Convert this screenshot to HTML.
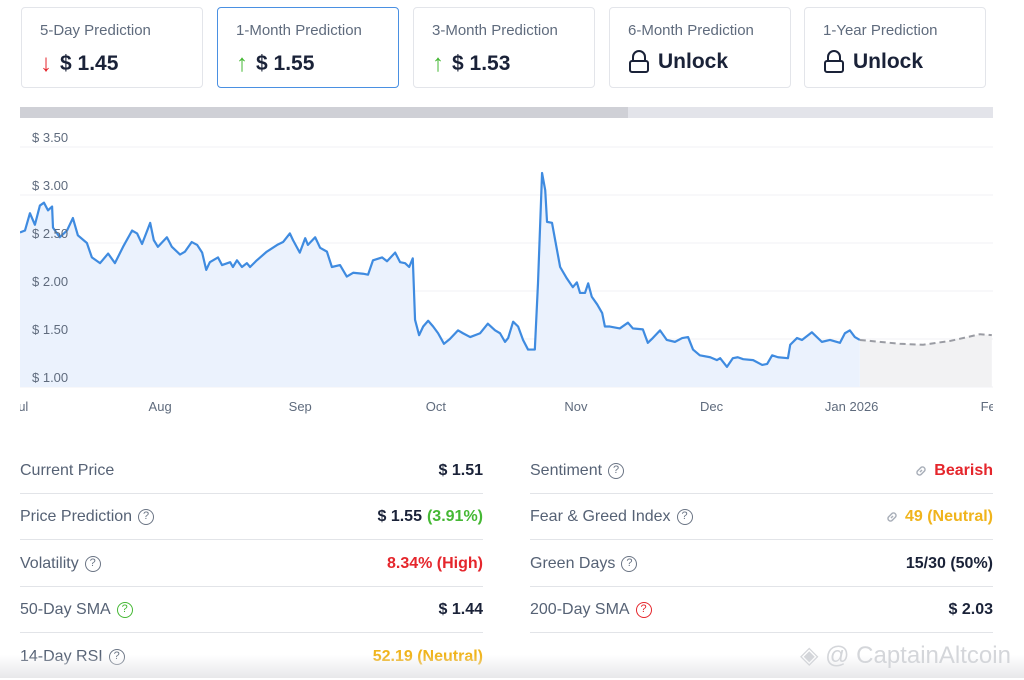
<!DOCTYPE html>
<html><head><meta charset="utf-8">
<style>
*{box-sizing:border-box;margin:0;padding:0}
body{width:1024px;height:678px;background:#fff;font-family:"Liberation Sans",sans-serif;position:relative;overflow:hidden;color:#1a2238}
.card{position:absolute;top:7px;width:182px;height:81px;border:1px solid #e3e5ea;border-radius:4px;background:#fff}
.card.sel{border-color:#4a90e2}
.card .t{position:absolute;left:18px;top:14px;font-size:15px;color:#5f6b7d}
.card .v{position:absolute;left:18px;top:42px;font-size:21px;font-weight:bold;color:#1a2238;display:flex;align-items:center;gap:8px}
.arr{font-size:24px;font-weight:bold}
.row{position:absolute;height:46px;border-bottom:1px solid #e2e4e8;display:flex;justify-content:space-between;align-items:center;font-size:16px}
.row .l{color:#566275;display:flex;align-items:center;gap:6px}
.row .r{font-weight:bold;color:#1a2238;display:flex;align-items:center;gap:5px}
.q{display:inline-block;width:16px;height:16px;border:1.5px solid #6b7585;border-radius:50%;font-size:11px;text-align:center;line-height:13px;color:#6b7585;font-weight:normal}
</style></head><body>
<div class="card" style="left:21px"><div class="t">5-Day Prediction</div><div class="v"><span class="arr" style="color:#e5262c">↓</span>$ 1.45</div></div>
<div class="card sel" style="left:217px"><div class="t">1-Month Prediction</div><div class="v"><span class="arr" style="color:#45b834">↑</span>$ 1.55</div></div>
<div class="card" style="left:413px"><div class="t">3-Month Prediction</div><div class="v"><span class="arr" style="color:#45b834">↑</span>$ 1.53</div></div>
<div class="card" style="left:609px"><div class="t">6-Month Prediction</div><div class="v"><svg width="22" height="24" viewBox="0 0 22 24"><path d="M5 11V7a6 6 0 0 1 12 0v4" fill="none" stroke="#1a2238" stroke-width="2"/><rect x="2" y="11" width="18" height="11" rx="2" fill="none" stroke="#1a2238" stroke-width="2"/></svg>Unlock</div></div>
<div class="card" style="left:804px"><div class="t">1-Year Prediction</div><div class="v"><svg width="22" height="24" viewBox="0 0 22 24"><path d="M5 11V7a6 6 0 0 1 12 0v4" fill="none" stroke="#1a2238" stroke-width="2"/><rect x="2" y="11" width="18" height="11" rx="2" fill="none" stroke="#1a2238" stroke-width="2"/></svg>Unlock</div></div>

<div style="position:absolute;left:20px;top:107px;width:973px;height:11px;background:#e3e4ea"><div style="width:608px;height:11px;background:#cfd0d6"></div></div>

<svg id="chart" width="1024" height="430" style="position:absolute;left:0;top:0" font-family="Liberation Sans, sans-serif"></svg>

<div class="row" style="left:20px;top:448px;width:463px"><span class="l">Current Price</span><span class="r">$ 1.51</span></div>
<div class="row" style="left:20px;top:494px;width:463px"><span class="l">Price Prediction <span class="q">?</span></span><span class="r">$ 1.55 <span style="color:#45b834">(3.91%)</span></span></div>
<div class="row" style="left:20px;top:541px;width:463px"><span class="l">Volatility <span class="q">?</span></span><span class="r" style="color:#e5262c">8.34% (High)</span></div>
<div class="row" style="left:20px;top:587px;width:463px"><span class="l">50-Day SMA <span class="q" style="border-color:#45b834;color:#45b834">?</span></span><span class="r">$ 1.44</span></div>
<div class="row" style="left:20px;top:634px;width:463px;border:none"><span class="l">14-Day RSI <span class="q">?</span></span><span class="r" style="color:#f0b41c">52.19 (Neutral)</span></div>

<div class="row" style="left:530px;top:448px;width:463px"><span class="l">Sentiment <span class="q">?</span></span><span class="r" style="color:#e5262c"><svg width="16" height="16" viewBox="0 0 16 16"><path d="M7 9l2-2M6 6.5L8 4.5a2.5 2.5 0 0 1 3.5 3.5L9.5 10M10 9.5L8 11.5A2.5 2.5 0 0 1 4.5 8L6.5 6" fill="none" stroke="#aab0ba" stroke-width="1.5"/></svg>Bearish</span></div>
<div class="row" style="left:530px;top:494px;width:463px"><span class="l">Fear &amp; Greed Index <span class="q">?</span></span><span class="r" style="color:#f0b41c"><svg width="16" height="16" viewBox="0 0 16 16"><path d="M7 9l2-2M6 6.5L8 4.5a2.5 2.5 0 0 1 3.5 3.5L9.5 10M10 9.5L8 11.5A2.5 2.5 0 0 1 4.5 8L6.5 6" fill="none" stroke="#aab0ba" stroke-width="1.5"/></svg>49 (Neutral)</span></div>
<div class="row" style="left:530px;top:541px;width:463px"><span class="l">Green Days <span class="q">?</span></span><span class="r">15/30 (50%)</span></div>
<div class="row" style="left:530px;top:587px;width:463px"><span class="l">200-Day SMA <span class="q" style="border-color:#e5262c;color:#e5262c">?</span></span><span class="r">$ 2.03</span></div>

<div style="position:absolute;left:0;top:655px;width:1024px;height:23px;background:linear-gradient(#fff0,#e8e8ea)"></div>
<div style="position:absolute;left:800px;top:641px;font-size:24px;color:#d4d6da">◈ @ CaptainAltcoin</div>

<script>
const days=[0,1.1,2.2,3.3,4.4,5.3,6.2,7.1,7.3,8.8,10.4,11.7,12.8,14.8,15.9,17.7,19.5,21,22.8,24.8,25.9,27,28.8,29.6,30.5,32.5,33.6,35.4,36.5,38,39.2,40.3,41.2,42,43.8,44.7,46.5,47.1,48,49.1,50.2,50.9,52.4,54.6,56.9,58.2,59.7,60.4,61.9,63.1,63.7,65.3,66.4,67.9,69,70.8,72.3,73.7,75.9,77,78.1,80.1,81.2,83,84.1,85.2,86.1,86.9,87.4,88.3,89.2,90.3,91.4,92.5,93.8,95.1,96.9,98,99.6,101.8,103.5,105.1,106.2,107.3,108,109.1,110.2,111.3,112.4,113.9,114.6,115.5,116.2,116.6,117.7,118.4,119.5,121,122.3,123.2,123.9,125,125.7,126.5,127.7,128.8,129.4,130.5,132.7,134.5,135.6,137.8,138.9,140,141.6,143.1,144.9,146.5,147.8,148.9,150.4,152.7,154.2,154.9,156.4,157.7,158.8,160,162.2,164.2,165.3,166.4,167.7,169.9,170.4,171.9,173,175.2,177.4,179.2,181.4,182.5,183.6,184.7,185.8];
const prices=[2.61,2.63,2.81,2.69,2.89,2.92,2.84,2.88,2.66,2.56,2.63,2.76,2.58,2.50,2.35,2.29,2.39,2.29,2.46,2.63,2.60,2.49,2.71,2.53,2.46,2.56,2.46,2.38,2.41,2.51,2.48,2.40,2.22,2.30,2.35,2.27,2.30,2.25,2.32,2.25,2.29,2.25,2.32,2.41,2.48,2.51,2.60,2.53,2.40,2.55,2.48,2.56,2.45,2.41,2.25,2.27,2.15,2.19,2.18,2.17,2.32,2.35,2.31,2.40,2.30,2.29,2.25,2.34,1.70,1.54,1.63,1.69,1.63,1.56,1.45,1.50,1.59,1.56,1.52,1.56,1.66,1.59,1.56,1.47,1.51,1.68,1.63,1.49,1.39,1.39,2.08,3.23,3.05,2.72,2.71,2.53,2.25,2.13,2.04,2.09,1.98,1.98,2.08,1.94,1.86,1.77,1.63,1.63,1.61,1.67,1.61,1.60,1.46,1.51,1.59,1.49,1.47,1.51,1.52,1.39,1.33,1.31,1.28,1.30,1.21,1.30,1.31,1.29,1.28,1.23,1.24,1.33,1.31,1.30,1.44,1.51,1.49,1.57,1.47,1.49,1.46,1.56,1.59,1.52,1.49];
const forecastDays=[185.8,194.7,199.8,205.8,212.4,215];
const forecastPrices=[1.49,1.45,1.44,1.48,1.55,1.54];
const yTicks=[1.0,1.5,2.0,2.5,3.0,3.5];
const xTickDays=[0,31,62,92,123,153,184,215];
const xTickLabels=["Jul","Aug","Sep","Oct","Nov","Dec","Jan 2026","Feb"];

const NS="http://www.w3.org/2000/svg";
const svg=document.getElementById('chart');
const X=d=>20+d*4.52;
const Y=v=>387-(v-1)*96;
function mk(tag,attrs,parent){const e=document.createElementNS(NS,tag);for(const k in attrs)e.setAttribute(k,attrs[k]);(parent||svg).appendChild(e);return e;}
const clip=mk('clipPath',{id:'cp'});mk('rect',{x:20,y:120,width:973,height:300},clip);
const g=mk('g',{'clip-path':'url(#cp)'});
yTicks.forEach(v=>{
  const l=mk('line',{x1:20,x2:993,y1:Y(v),y2:Y(v),stroke:'#f0f1f4','stroke-width':1},g);
  
  
});
let fa='M'+X(forecastDays[0])+' '+Y(1);
forecastDays.forEach((d,i)=>fa+=' L'+X(d)+' '+Y(forecastPrices[i]));
fa+=' L'+X(forecastDays[forecastDays.length-1])+' '+Y(1)+'Z';
const farea=mk('path',{d:fa,fill:'#f2f2f3'},g);


let a='M'+X(days[0])+' '+Y(1),ln='';
days.forEach((d,i)=>{a+=' L'+X(d)+' '+Y(prices[i]);ln+=(i?' L':'M')+X(d)+' '+Y(prices[i]);});
a+=' L'+X(days[days.length-1])+' '+Y(1)+'Z';
const area=mk('path',{d:a,fill:'#ebf2fd'},g);


yTicks.forEach(v=>{
  const t=mk('text',{x:32,y:Y(v)-5,'font-size':13,fill:'#5f6b7d'});
  t.textContent='$ '+v.toFixed(2);
  
  
});
const line=mk('path',{d:ln,fill:'none',stroke:'#3f8be0','stroke-width':2.2,'stroke-linejoin':'round'},g);


let fl='';forecastDays.forEach((d,i)=>fl+=(i?' L':'M')+X(d)+' '+Y(forecastPrices[i]));
const fline=mk('path',{d:fl,fill:'none',stroke:'#9a9ca3','stroke-width':2,'stroke-dasharray':'6 4'},g);


xTickDays.forEach((d,i)=>{
  const t=mk('text',{x:X(d),y:411,'font-size':13,fill:'#5f6b7d','text-anchor':'middle'});
  t.textContent=xTickLabels[i];
  
  
});
mk('rect',{x:0,y:395,width:20,height:25,fill:'#fff'});
mk('rect',{x:993,y:395,width:31,height:25,fill:'#fff'});
</script>
</body></html>
